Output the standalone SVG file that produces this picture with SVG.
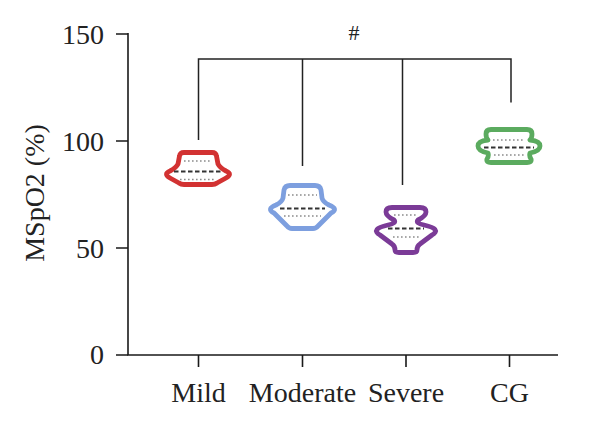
<svg xmlns="http://www.w3.org/2000/svg" width="600" height="424" viewBox="0 0 600 424">
<style>
  .ax{stroke:#1a1a1a;stroke-width:1.6;fill:none}
  .br{stroke:#222;stroke-width:1.5;fill:none}
  .t{font-family:"Liberation Serif","Times New Roman",serif;font-size:28px;fill:#222}
  .vio{fill:#fff;stroke-width:4.8;stroke-linejoin:round}
  .q{stroke:#8c8c8c;stroke-width:1.6;stroke-dasharray:1.6 2.4;fill:none}
  .m{stroke:#333;stroke-width:2.2;stroke-dasharray:4.5 2.5;fill:none}
</style>
<rect width="600" height="424" fill="#fff"/>
<g id="axes">
  <path class="ax" d="M128,33 V355 H558"/>
  <path class="ax" d="M116,34 H128 M116,141 H128 M116,248 H128 M116,355 H128"/>
  <path class="ax" d="M198.5,355 V367 M302.5,355 V367 M406,355 V367 M509.5,355 V367"/>
  <g class="t" text-anchor="end">
    <text x="104" y="43.5">150</text>
    <text x="104" y="150.5">100</text>
    <text x="104" y="257.5">50</text>
    <text x="104" y="364">0</text>
  </g>
  <text class="t" text-anchor="middle" transform="translate(44,193) rotate(-90)">MSpO2 (%)</text>
  <g class="t" text-anchor="middle">
    <text x="198.5" y="402">Mild</text>
    <text x="302.5" y="402">Moderate</text>
    <text x="406" y="402">Severe</text>
    <text x="509.5" y="402">CG</text>
  </g>
</g>
<g id="connectors">
  <path class="br" d="M198.5,140 V59 H511 V102.5 M302.5,59 V166 M402.5,59 V185"/>
  <text x="354" y="40" text-anchor="middle" font-family="Liberation Serif, serif" font-size="22" fill="#222">#</text>
</g>
<g id="mild">
  <path class="vio" stroke="#d23232" d="M184,152.5 L212,152.5 Q216,152.5 216.5,156 L218,164 Q220,168 226,171 Q233,174 226,178 L217,183 Q215,184.5 212,184.5 L184,184.5 Q181,184.5 179,183 L170,178 Q163,174 170,171 Q176,168 178,164 L179.5,156 Q180,152.5 184,152.5 Z"/>
  <path class="q" d="M184,161 H212 M180,179.5 H216"/>
  <path class="m" d="M174,171.5 H222"/>
</g>
<g id="moderate">
  <path class="vio" stroke="#7d9fdf" d="M290,185.5 L315,185.5 Q320,185.5 321,190 L322,198 Q323,202 329,205 Q339,209 331,213 L318,226 Q316,228.5 313,228.5 L292,228.5 Q289,228.5 287,226 L274,213 Q266,209 276,205 Q282,202 283,198 L284,190 Q285,185.5 290,185.5 Z"/>
  <path class="q" d="M288,195 H317 M284,216 H321"/>
  <path class="m" d="M280,208.5 H325"/>
</g>
<g id="severe">
  <path class="vio" stroke="#7b3b97" d="M392,207.5 L420,207.5 Q426,207.5 426,212 Q426,216 418,220 Q415,223 424,225 Q442,229 432,235 L420,244 Q417,246 417,250 Q417,252.5 413,252.5 L399,252.5 Q395,252.5 395,250 Q395,246 392,244 L380,235 Q370,229 388,225 Q397,223 394,220 Q386,216 386,212 Q386,207.5 392,207.5 Z"/>
  <path class="q" d="M394,215 H418 M393,237 H419"/>
  <path class="m" d="M388,228.5 H424"/>
</g>
<g id="cg">
  <path class="vio" stroke="#5bab5f" d="M491,129.5 L527,129.5 Q532,129.5 532,134 Q532,138 530,140 Q540,141 540,146 Q540,151 530,153 Q529,156 531,159 Q532,162.5 527,162.5 L491,162.5 Q486,162.5 487,159 Q489,156 488,153 Q478,151 478,146 Q478,141 488,140 Q486,138 486,134 Q486,129.5 491,129.5 Z"/>
  <path class="q" d="M493,140 H525 M494,155 H524"/>
  <path class="m" d="M484,147.5 H534"/>
</g>
</svg>
